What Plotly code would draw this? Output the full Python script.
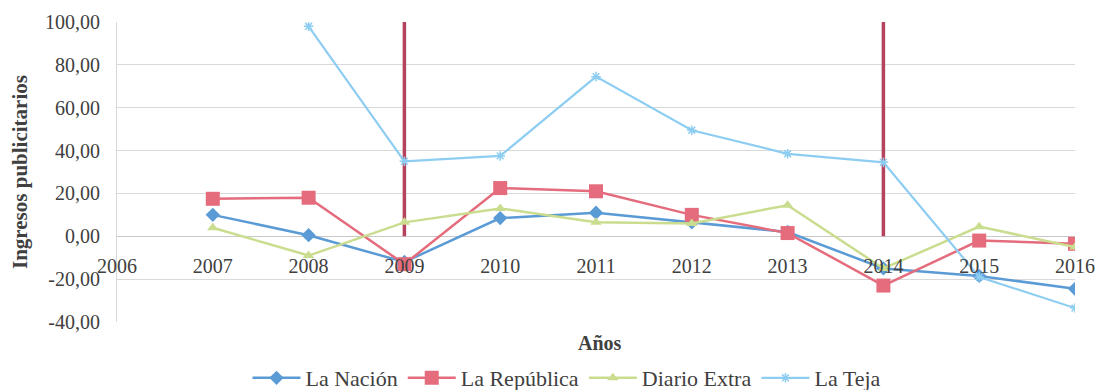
import plotly.graph_objects as go

years = [2007, 2008, 2009, 2010, 2011, 2012, 2013, 2014, 2015, 2016]
la_nacion = [10.0, 0.5, -12.0, 8.5, 11.0, 6.5, 2.0, -15.0, -18.5, -24.5]
la_republica = [17.5, 18.0, -13.0, 22.5, 21.0, 10.0, 1.5, -23.0, -2.0, -3.5]
diario_extra = [4.0, -9.0, 6.5, 13.0, 6.5, 6.0, 14.5, -15.0, 4.5, -5.0]
la_teja = [None, 98.0, 35.0, 37.5, 74.5, 49.5, 38.5, 34.5, -19.0, -33.5]
event_years = [2009, 2014]
event_range = [0, 100]

y_ticks = [-40, -20, 0, 20, 40, 60, 80, 100]
y_ticktext = [f"{v:.2f}".replace(".", ",") for v in y_ticks]
x_ticks = list(range(2006, 2017))

serif = "Liberation Serif"
txt = "#404040"

fig = go.Figure()

for ev in event_years:
    fig.add_trace(go.Scatter(x=[ev, ev], y=event_range, mode="lines",
                             line=dict(color="#b5435e", width=3.5),
                             showlegend=False, hoverinfo="skip"))

fig.add_trace(go.Scatter(x=years, y=la_nacion, name="La Nación", mode="lines+markers",
                         line=dict(color="#5b9bd5", width=2.5),
                         marker=dict(symbol="diamond", size=11, color="#5b9bd5")))
fig.add_trace(go.Scatter(x=years, y=la_republica, name="La República", mode="lines+markers",
                         line=dict(color="#e46c7c", width=2.5),
                         marker=dict(symbol="square", size=14, color="#e46c7c")))
fig.add_trace(go.Scatter(x=years, y=diario_extra, name="Diario Extra", mode="lines+markers",
                         line=dict(color="#cadd8f", width=2.5),
                         marker=dict(symbol="triangle-up", size=10, color="#cadd8f")))
fig.add_trace(go.Scatter(x=years, y=la_teja, name="La Teja", mode="lines+markers",
                         line=dict(color="#8ecdf2", width=2.2),
                         marker=dict(symbol="asterisk", size=8,
                                     line=dict(color="#8ecdf2", width=1.5)),
                         connectgaps=False))

fig.update_layout(
    width=1102, height=390,
    margin=dict(l=117, r=27, t=22, b=68, autoexpand=False),
    paper_bgcolor="white", plot_bgcolor="white",
    font=dict(family=serif, size=20, color=txt),
    showlegend=True,
    legend=dict(orientation="h", xref="container", yref="container",
                x=567 / 1102, xanchor="center", y=(390 - 378) / 390, yanchor="middle",
                font=dict(family=serif, size=22, color=txt), itemwidth=48,
                bgcolor="rgba(0,0,0,0)"),
    xaxis=dict(range=[2006, 2016], tickmode="array", tickvals=x_ticks,
               ticktext=[str(t) for t in x_ticks],
               showgrid=False, zeroline=False, showline=False,
               anchor="free", position=40 / 140,
               ticks="", ticklabelstandoff=16,
               tickfont=dict(family=serif, size=20, color=txt)),
    yaxis=dict(range=[-40, 100], tickmode="array", tickvals=y_ticks, ticktext=y_ticktext,
               showgrid=True, gridcolor="#d9d9d9", gridwidth=1,
               zeroline=True, zerolinecolor="#c8c8c8", zerolinewidth=1.2,
               showline=True, linecolor="#d9d9d9", linewidth=1,
               ticks="", ticklabelstandoff=12,
               tickfont=dict(family=serif, size=20, color=txt)),
    annotations=[
        dict(text="<b>Años</b>", xref="paper", yref="paper",
             x=(600 - 117) / 958, y=(322 - 343) / 300, xanchor="center", yanchor="middle",
             showarrow=False, font=dict(family=serif, size=20, color=txt)),
        dict(text="<b>Ingresos publicitarios</b>", xref="paper", yref="paper",
             x=(20 - 117) / 958, y=0.5, xanchor="center", yanchor="middle", textangle=-90,
             showarrow=False, font=dict(family=serif, size=21, color=txt)),
    ],
)

fig.write_html("out.html")
